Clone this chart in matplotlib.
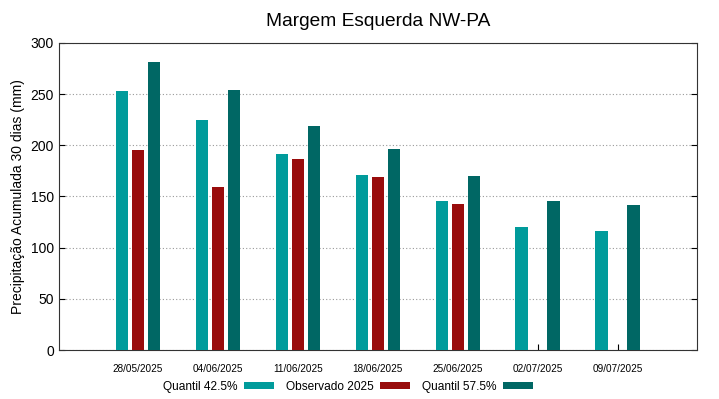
import numpy as np
import matplotlib.pyplot as plt

plt.rcParams['font.family'] = ['Liberation Sans', 'DejaVu Sans']

datas = ['28/05/2025', '04/06/2025', '11/06/2025', '18/06/2025',
         '25/06/2025', '02/07/2025', '09/07/2025']
q425 = [253, 225, 192, 171, 146, 120, 116]
obs = [195, 159, 187, 169, 143, np.nan, np.nan]
q575 = [281, 254, 219, 196, 170, 146, 142]

cores = ['#009b9b', '#990c0c', '#006764']

fig = plt.figure(figsize=(7.19, 3.99), dpi=100)
ax = fig.add_axes([0.082, 0.1228, 0.887, 0.7695])

x = np.arange(len(datas))
w = 0.155
ax.bar(x - 0.2, q425, w, color=cores[0], label='Quantil 42.5%', zorder=3)
ax.bar(x, obs, w, color=cores[1], label='Observado 2025', zorder=3)
ax.bar(x + 0.2, q575, w, color=cores[2], label='Quantil 57.5%', zorder=3)

ax.set_xlim(-0.99, 6.99)
ax.set_ylim(0, 300)
ax.set_yticks(range(0, 301, 50))
ax.set_xticks(x)
ax.set_xticklabels(datas, fontsize=7.2)
ax.tick_params(axis='y', labelsize=10, direction='in', right=True, length=4)
ax.tick_params(axis='x', direction='in', length=4, pad=10)
ax.yaxis.grid(True, linestyle=(0, (1, 2)), color='#999999', linewidth=0.8)
for s in ax.spines.values():
    s.set_color('#333333')

ax.set_ylabel('Precipitação Acumulada 30 dias (mm)', fontsize=10)
ax.set_title('Margem Esquerda NW-PA', fontsize=13.8, pad=12)

ax.legend(loc='center', bbox_to_anchor=(0.453, -0.12), ncol=3,
          frameon=False, markerfirst=False, fontsize=8.6,
          handlelength=2.5, handleheight=0.5, columnspacing=1.0,
          handletextpad=0.55)

fig.savefig('out.png', dpi=100)
